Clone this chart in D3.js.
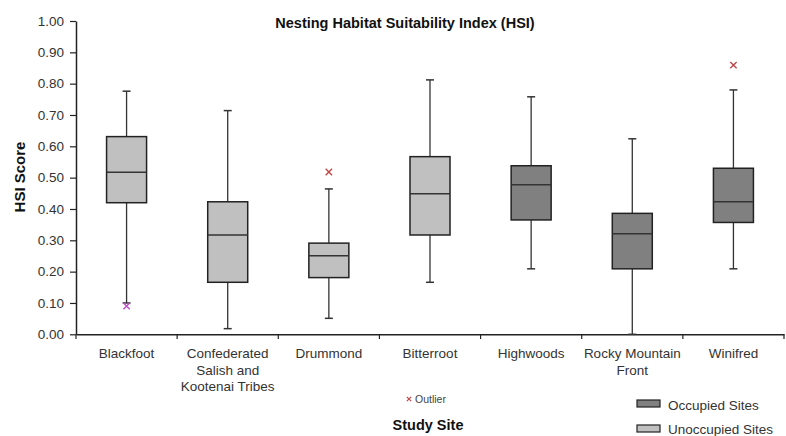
<!DOCTYPE html>
<html><head><meta charset="utf-8">
<script src="https://cdn.jsdelivr.net/npm/d3@7"></script>
<style>body{margin:0;background:#fff}svg{display:block}</style>
</head><body>
<svg id="c" width="786" height="436"></svg>
<script>
const sites = ["Blackfoot","Confederated Salish and Kootenai Tribes","Drummond","Bitterroot","Highwoods","Rocky Mountain Front","Winifred"];
const siteLines = [["Blackfoot"],["Confederated","Salish and","Kootenai Tribes"],["Drummond"],["Bitterroot"],["Highwoods"],["Rocky Mountain","Front"],["Winifred"]];
const groups = ["Unoccupied","Unoccupied","Unoccupied","Unoccupied","Occupied","Occupied","Occupied"];
const whiskerLow = [0.10, 0.018, 0.051, 0.166, 0.209, 0.0, 0.209];
const q1 = [0.420, 0.166, 0.181, 0.317, 0.365, 0.209, 0.357];
const median = [0.517, 0.317, 0.251, 0.449, 0.477, 0.321, 0.423];
const q3 = [0.631, 0.423, 0.291, 0.567, 0.538, 0.386, 0.530];
const whiskerHigh = [0.776, 0.714, 0.464, 0.812, 0.758, 0.624, 0.780];
const outliers = [[0.090],[],[0.518],[],[],[],[0.859]];
const yTicks = [0,0.1,0.2,0.3,0.4,0.5,0.6,0.7,0.8,0.9,1.0];
const legendItems = ["Occupied Sites","Unoccupied Sites"];

const fill = {Occupied:"#808080", Unoccupied:"#c0c0c0"};
const svg = d3.select("#c");
const font = "Arial, 'Liberation Sans', sans-serif";

const x = d3.scaleBand().domain(sites).range([76,784]).paddingInner(0).paddingOuter(0);
const y = d3.scaleLinear().domain([0,1]).range([334.3,21]);

// y axis
const ya = svg.append("g").attr("transform","translate(76,0)")
  .call(d3.axisLeft(y).tickValues(yTicks).tickFormat(d3.format(".2f")).tickSize(6).tickSizeOuter(0));
ya.select(".domain").attr("stroke","#222").attr("stroke-width",1.5);
ya.selectAll(".tick line").attr("stroke","#222").attr("stroke-width",1.2);
ya.selectAll(".tick text").attr("font-family",font).attr("font-size",13.5).attr("fill","#333").attr("x",-12);

// x axis
const xa = svg.append("g").attr("transform","translate(0,334.3)")
  .call(d3.axisBottom(x).tickSize(0).tickSizeOuter(0).tickFormat(""));
xa.select(".domain").attr("stroke","#222").attr("stroke-width",1.5);
svg.append("g").selectAll("line").data(sites.concat(["__end"])).join("line")
  .attr("x1",(d,i)=> i<sites.length ? x(d) : x.range()[1])
  .attr("x2",(d,i)=> i<sites.length ? x(d) : x.range()[1])
  .attr("y1",334.3).attr("y2",339).attr("stroke","#222").attr("stroke-width",1.2);

// x labels
sites.forEach((s,i)=>{
  const t = svg.append("text").attr("font-family",font).attr("font-size",13.5).attr("fill","#333")
    .attr("text-anchor","middle");
  siteLines[i].forEach((ln,j)=>{
    t.append("tspan").attr("x",x(s)+x.bandwidth()/2).attr("y",358+j*16.5).text(ln);
  });
});

// boxes
const bw = 40, cap = 8;
sites.forEach((s,i)=>{
  const cx = x(s)+x.bandwidth()/2;
  const g = svg.append("g");
  g.append("line").attr("x1",cx).attr("x2",cx).attr("y1",y(whiskerHigh[i])).attr("y2",y(q3[i])).attr("stroke","#333").attr("stroke-width",1.3);
  g.append("line").attr("x1",cx).attr("x2",cx).attr("y1",y(q1[i])).attr("y2",y(whiskerLow[i])).attr("stroke","#333").attr("stroke-width",1.3);
  g.append("line").attr("x1",cx-cap/2).attr("x2",cx+cap/2).attr("y1",y(whiskerHigh[i])).attr("y2",y(whiskerHigh[i])).attr("stroke","#333").attr("stroke-width",1.5);
  g.append("line").attr("x1",cx-cap/2).attr("x2",cx+cap/2).attr("y1",y(whiskerLow[i])).attr("y2",y(whiskerLow[i])).attr("stroke","#333").attr("stroke-width",1.5);
  g.append("rect").attr("x",cx-bw/2).attr("width",bw).attr("y",y(q3[i])).attr("height",y(q1[i])-y(q3[i]))
    .attr("fill",fill[groups[i]]).attr("stroke","#222").attr("stroke-width",1.5);
  g.append("line").attr("x1",cx-bw/2).attr("x2",cx+bw/2).attr("y1",y(median[i])).attr("y2",y(median[i])).attr("stroke","#333").attr("stroke-width",1.5);
  outliers[i].forEach(o=>{
    g.append("path").attr("d",d3.symbol(d3.symbolX,28)()).attr("transform",`translate(${cx},${y(o)})`)
      .attr("fill","none").attr("stroke", i===0 ? "#c050c8" : "#c04848").attr("stroke-width",1.4);
  });
});

// title
svg.append("text").attr("x",405).attr("y",28).attr("text-anchor","middle").attr("font-family",font)
  .attr("font-weight","bold").attr("font-size",14.5).attr("fill","#111").text("Nesting Habitat Suitability Index (HSI)");

// y label
svg.append("text").attr("transform","translate(25,177) rotate(-90)").attr("text-anchor","middle").attr("font-family",font)
  .attr("font-weight","bold").attr("font-size",15).attr("fill","#111").text("HSI Score");

// x title
svg.append("text").attr("x",428).attr("y",430).attr("text-anchor","middle").attr("font-family",font)
  .attr("font-weight","bold").attr("font-size",14.5).attr("fill","#111").text("Study Site");

// outlier legend
svg.append("path").attr("d",d3.symbol(d3.symbolX,14)()).attr("transform","translate(409,399)")
  .attr("fill","none").attr("stroke","#c04848").attr("stroke-width",1.2);
svg.append("text").attr("x",415).attr("y",403).attr("font-family",font).attr("font-size",10.5).attr("fill","#444").text("Outlier");

// group legend
const lg = svg.append("g");
legendItems.forEach((t,i)=>{
  lg.append("rect").attr("x",637).attr("y",400+i*25).attr("width",23).attr("height",7)
    .attr("fill", i===0 ? fill.Occupied : fill.Unoccupied).attr("stroke","#222").attr("stroke-width",1.2);
  lg.append("text").attr("x",668).attr("y",410+i*24).attr("font-family",font).attr("font-size",13.5).attr("fill","#333").text(t);
});
</script>
</body></html>
